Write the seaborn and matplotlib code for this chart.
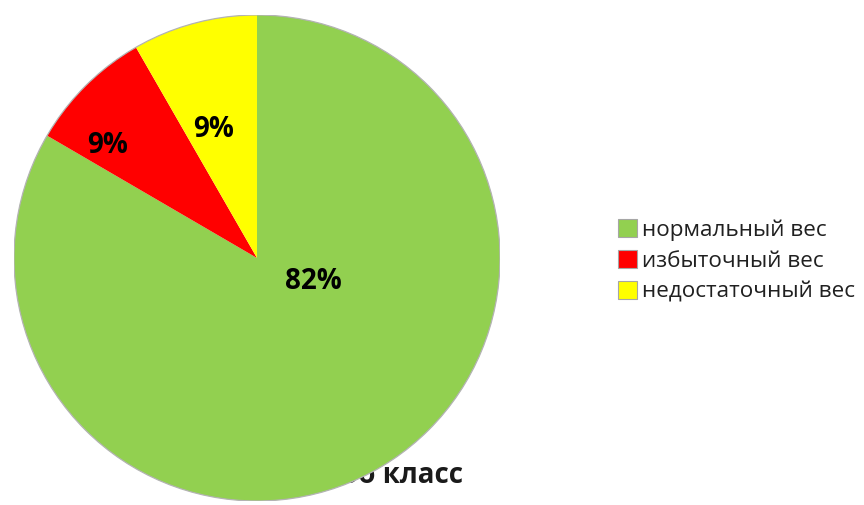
import matplotlib
matplotlib.use("Agg")
import matplotlib.pyplot as plt
from matplotlib.patches import Circle
import seaborn as sns

# data
categories = ["нормальный вес", "избыточный вес", "недостаточный вес"]
slice_sizes = [83.4, 8.3, 8.3]          # angles as drawn in the picture
pct_labels = ["82%", "9%", "9%"]        # labels as printed on the chart
colors = ["#92D050", "#FF0000", "#FFFF00"]
title = "оо класс"

sns.set_theme(style="white")
plt.rcParams['font.family'] = ['Open Sans', 'DejaVu Sans']

fig = plt.figure(figsize=(8.64, 5.05), dpi=100)
ax = fig.add_axes([14 / 864, 4 / 505, 486 / 864, 486 / 505])

wedges, _ = ax.pie(slice_sizes, colors=colors, startangle=90, counterclock=False,
                   wedgeprops=dict(linewidth=0))
# thin grey outline round the whole pie
ax.add_patch(Circle((0, 0), 1, fill=False, edgecolor='#b3b3b3', linewidth=0.9))
ax.set_xlim(-1, 1)
ax.set_ylim(-1, 1)
ax.set_aspect("equal")

# percentage labels
label_pos = [(0.23, -0.095), (-0.613, 0.465), (-0.18, 0.527)]
for (x, y), s in zip(label_pos, pct_labels):
    ax.text(x, y, s, ha='center', va='center',
            fontsize=20, fontweight='bold', color='black')

# title sits behind the pie
ax.text(0.848, -0.897, title, ha='right', va='center', fontsize=20,
        fontweight='bold', color='#1a1a1a', zorder=0, clip_on=False)

leg = fig.legend(wedges, categories, loc='center left', bbox_to_anchor=(598 / 864, 1 - 261 / 505),
                 frameon=False, fontsize=16.2, handlelength=0.82, handleheight=0.82,
                 handletextpad=0.25, labelspacing=0.42, labelcolor='#202020')
for h in leg.legend_handles:
    h.set_edgecolor('#a6a6a6')
    h.set_linewidth(0.8)

fig.savefig("out.png", dpi=100)
